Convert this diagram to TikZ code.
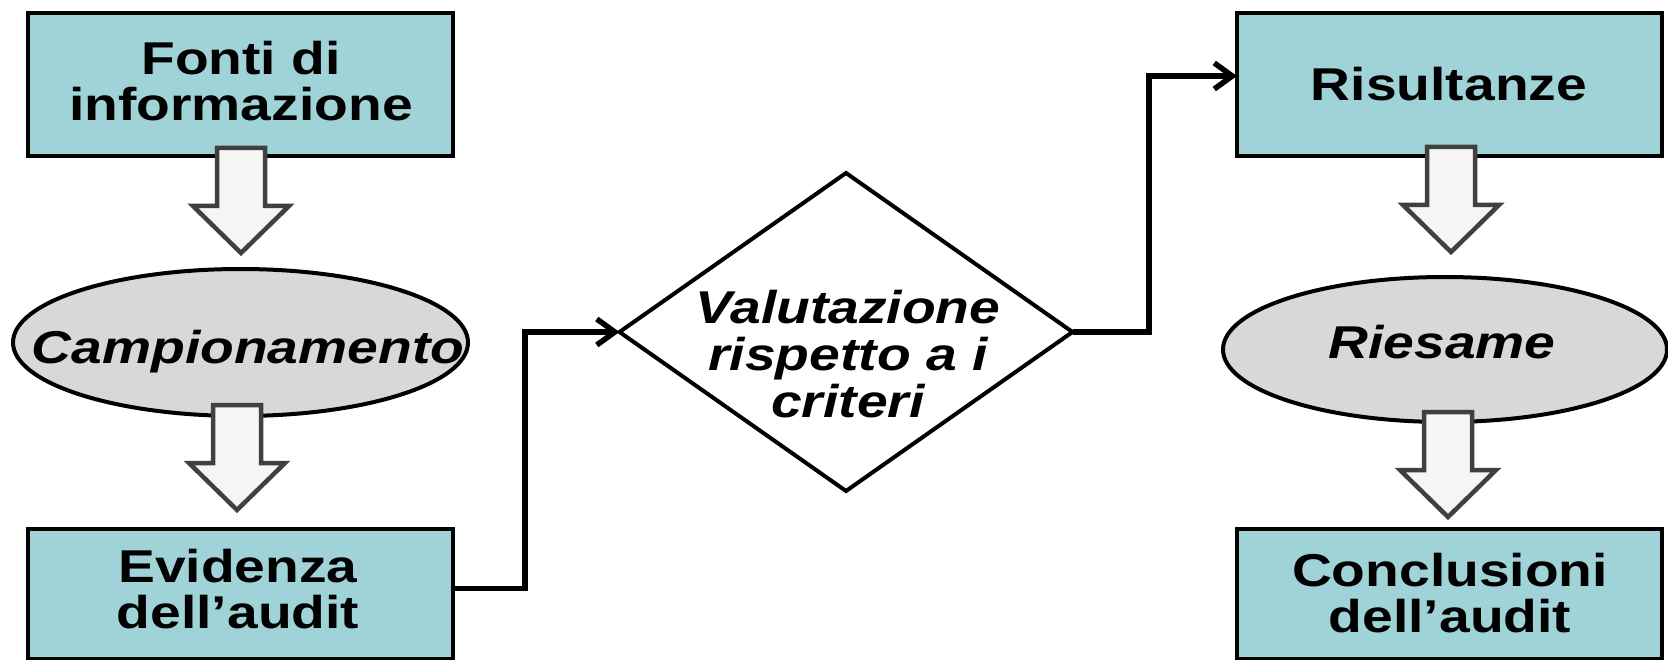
\documentclass[tikz,border=0pt]{standalone}
\usepackage{fontspec}
\newfontfamily\lsans[FakeStretch=1.2]{Liberation Sans}
\usetikzlibrary{shapes.geometric,arrows.meta,calc}
\definecolor{boxfill}{RGB}{159,211,215}
\definecolor{ellfill}{RGB}{216,216,216}
\definecolor{arrdraw}{RGB}{64,64,64}
\definecolor{arrfill}{RGB}{245,245,245}
\tikzset{
 box/.style={draw=black, fill=boxfill, line width=4pt, minimum width=425pt, minimum height=143pt, inner sep=0pt, outer sep=0pt},
 oval/.style={ellipse, draw=black, fill=ellfill, line width=4pt, inner sep=0pt, outer sep=0pt},
 decision/.style={diamond, draw=black, fill=white, line width=4pt, minimum width=453pt, minimum height=318pt, inner sep=0pt, outer sep=0pt},
 boxtext/.style={inner sep=0pt, align=center, font=\lsans\bfseries\fontsize{46pt}{46pt}\selectfont},
 ittext/.style={inner sep=0pt, align=center, font=\lsans\bfseries\itshape\fontsize{46pt}{47pt}\selectfont},
 conn/.style={line width=5.5pt, -{Straight Barb[length=18pt,width=26pt]}},
 blockarrow/.style={draw=arrdraw, fill=arrfill, line width=4.5pt, line join=miter},
 barrow/.pic={\draw[blockarrow] (-24,0) -- (24,0) -- (24,58) -- (48,58) -- (0,105) -- (-48,58) -- (-24,58) -- cycle;}
}
\begin{document}
\begin{tikzpicture}[x=1pt,y=-1pt]
\useasboundingbox (0,0) rectangle (1668,660);
\clip (0,0) rectangle (1668,660);
% left column
\node[box] (f) at (240.5,84.5) {};
\node[boxtext] (ft) at (241,81.5) {Fonti di\\informazione};
\node[oval, minimum width=455pt, minimum height=147pt] (c) at (240.5,342.5) {};
\node[ittext, anchor=base] (ct) at (248,363) {Campionamento};
\node[box, minimum height=130pt] (e) at (240.5,594) {};
\node[boxtext] (et) at (238,589) {Evidenza\\dell’audit};
% diamond
\node[decision] (d) at (846,332) {};
\node[ittext] (dt) at (848,354) {Valutazione\\rispetto a i\\criteri};
% right column
\node[box] (r) at (1449.5,84.5) {};
\node[boxtext, anchor=base] (rt) at (1449,100.5) {Risultanze};
\node[oval, minimum width=444pt, minimum height=145pt] (ri) at (1445,349.5) {};
\node[ittext, anchor=base] (rit) at (1442,358) {Riesame};
\node[box, minimum height=130pt] (k) at (1449.5,594) {};
\node[boxtext] (kt) at (1450,593) {Conclusioni\\dell’audit};
% block arrows
\pic at ($(f.south)+(0.5,-8)$) {barrow};
\pic at ($(c.south)+(-3.5,-11)$) {barrow};
\pic at ($(r.south)+(1.5,-9)$) {barrow};
\pic at ($(ri.south)+(3,-10)$) {barrow};
% connectors
\coordinate (j1) at (525,0);
\coordinate (j2) at (1149,0);
\coordinate (eout) at ([yshift=5.5pt]e.east);
\coordinate (rin) at ([yshift=8.5pt]r.west);
\draw[conn] (eout) -| (j1 |- d.west) -- (d.west);
\draw[conn] (d.east) -| (j2 |- rin) -- (rin);
\end{tikzpicture}
\end{document}
